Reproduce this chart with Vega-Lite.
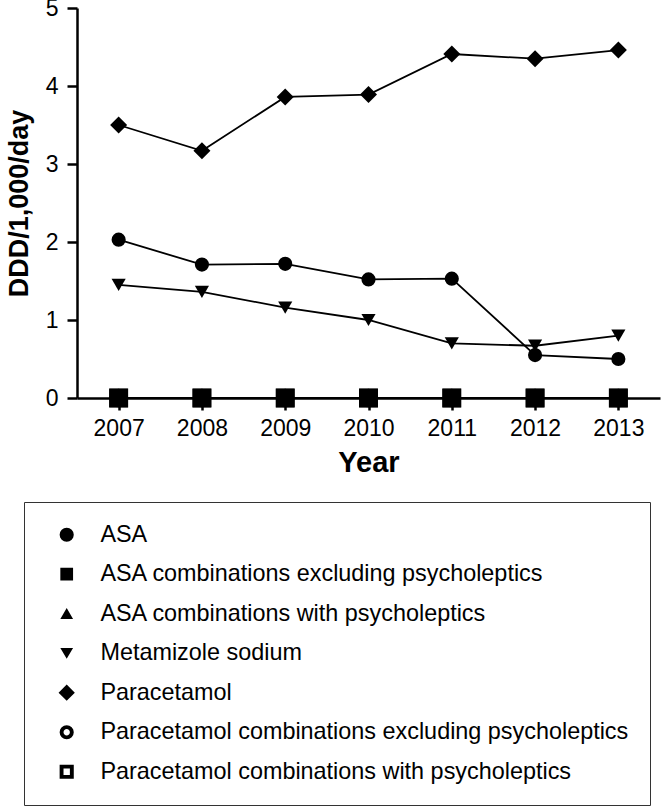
{
  "$schema": "https://vega.github.io/schema/vega-lite/v6.json",
  "autosize": {"type": "none"},
  "width": 583,
  "height": 390,
  "padding": {"left": 77, "top": 8, "right": 2, "bottom": 408},
  "config": {
    "font": "Liberation Sans",
    "view": {"stroke": null},
    "axis": {"grid": false, "domainColor": "black", "domainWidth": 2.5, "tickColor": "black", "tickWidth": 2.5, "labelColor": "black", "titleColor": "black", "labelFont": "Liberation Sans", "titleFont": "Liberation Sans"}
  },
  "data": {
    "values": [
      {"series": "ASA combinations with psycholeptics", "year": 2007, "value": 0},
      {"series": "ASA combinations with psycholeptics", "year": 2008, "value": 0},
      {"series": "ASA combinations with psycholeptics", "year": 2009, "value": 0},
      {"series": "ASA combinations with psycholeptics", "year": 2010, "value": 0},
      {"series": "ASA combinations with psycholeptics", "year": 2011, "value": 0},
      {"series": "ASA combinations with psycholeptics", "year": 2012, "value": 0},
      {"series": "ASA combinations with psycholeptics", "year": 2013, "value": 0},
      {"series": "Paracetamol combinations excluding psycholeptics", "year": 2007, "value": 0},
      {"series": "Paracetamol combinations excluding psycholeptics", "year": 2008, "value": 0},
      {"series": "Paracetamol combinations excluding psycholeptics", "year": 2009, "value": 0},
      {"series": "Paracetamol combinations excluding psycholeptics", "year": 2010, "value": 0},
      {"series": "Paracetamol combinations excluding psycholeptics", "year": 2011, "value": 0},
      {"series": "Paracetamol combinations excluding psycholeptics", "year": 2012, "value": 0},
      {"series": "Paracetamol combinations excluding psycholeptics", "year": 2013, "value": 0},
      {"series": "Paracetamol combinations with psycholeptics", "year": 2007, "value": 0},
      {"series": "Paracetamol combinations with psycholeptics", "year": 2008, "value": 0},
      {"series": "Paracetamol combinations with psycholeptics", "year": 2009, "value": 0},
      {"series": "Paracetamol combinations with psycholeptics", "year": 2010, "value": 0},
      {"series": "Paracetamol combinations with psycholeptics", "year": 2011, "value": 0},
      {"series": "Paracetamol combinations with psycholeptics", "year": 2012, "value": 0},
      {"series": "Paracetamol combinations with psycholeptics", "year": 2013, "value": 0},
      {"series": "Paracetamol", "year": 2007, "value": 3.50},
      {"series": "Paracetamol", "year": 2008, "value": 3.17},
      {"series": "Paracetamol", "year": 2009, "value": 3.86},
      {"series": "Paracetamol", "year": 2010, "value": 3.89},
      {"series": "Paracetamol", "year": 2011, "value": 4.41},
      {"series": "Paracetamol", "year": 2012, "value": 4.35},
      {"series": "Paracetamol", "year": 2013, "value": 4.46},
      {"series": "Metamizole sodium", "year": 2007, "value": 1.45},
      {"series": "Metamizole sodium", "year": 2008, "value": 1.36},
      {"series": "Metamizole sodium", "year": 2009, "value": 1.16},
      {"series": "Metamizole sodium", "year": 2010, "value": 1.00},
      {"series": "Metamizole sodium", "year": 2011, "value": 0.70},
      {"series": "Metamizole sodium", "year": 2012, "value": 0.67},
      {"series": "Metamizole sodium", "year": 2013, "value": 0.80},
      {"series": "ASA", "year": 2007, "value": 2.03},
      {"series": "ASA", "year": 2008, "value": 1.71},
      {"series": "ASA", "year": 2009, "value": 1.72},
      {"series": "ASA", "year": 2010, "value": 1.52},
      {"series": "ASA", "year": 2011, "value": 1.53},
      {"series": "ASA", "year": 2012, "value": 0.55},
      {"series": "ASA", "year": 2013, "value": 0.50},
      {"series": "ASA combinations excluding psycholeptics", "year": 2007, "value": 0},
      {"series": "ASA combinations excluding psycholeptics", "year": 2008, "value": 0},
      {"series": "ASA combinations excluding psycholeptics", "year": 2009, "value": 0},
      {"series": "ASA combinations excluding psycholeptics", "year": 2010, "value": 0},
      {"series": "ASA combinations excluding psycholeptics", "year": 2011, "value": 0},
      {"series": "ASA combinations excluding psycholeptics", "year": 2012, "value": 0},
      {"series": "ASA combinations excluding psycholeptics", "year": 2013, "value": 0}
    ]
  },
  "encoding": {
    "x": {
      "field": "year", "type": "quantitative",
      "scale": {"domain": [2006.5, 2013.5], "nice": false, "zero": false},
      "axis": {"title": "Year", "values": [2007, 2008, 2009, 2010, 2011, 2012, 2013], "format": "d", "labelFontSize": 23, "tickSize": 12, "labelPadding": 7, "titleFontSize": 29, "titleFontWeight": "bold", "titlePadding": 8, "labelFlush": false}
    },
    "y": {
      "field": "value", "type": "quantitative",
      "scale": {"domain": [0, 5], "nice": false},
      "axis": {"title": "DDD/1,000/day", "values": [0, 1, 2, 3, 4, 5], "labelFontSize": 23, "tickSize": 10, "labelPadding": 9, "titleFontSize": 27, "titleFontWeight": "bold", "titlePadding": 12, "labelFlush": false}
    }
  },
  "resolve": {"scale": {"shape": "independent"}, "legend": {"shape": "independent"}},
  "layer": [
    {
      "mark": {"type": "line", "color": "black", "strokeWidth": 1.8},
      "encoding": {"detail": {"field": "series", "type": "nominal"}}
    },
    {
      "mark": {"type": "point", "filled": true, "fill": "black", "stroke": "black", "opacity": 0, "size": 200, "strokeWidth": 1.5},
      "encoding": {
        "shape": {
          "field": "series", "type": "nominal",
          "scale": {
            "domain": ["ASA", "ASA combinations excluding psycholeptics", "ASA combinations with psycholeptics", "Metamizole sodium", "Paracetamol", "Paracetamol combinations excluding psycholeptics", "Paracetamol combinations with psycholeptics"],
            "range": [
              "M-3 0 L3 0 M1 0 L0.924 0.383 L0.707 0.707 L0.383 0.924 L0 1 L-0.383 0.924 L-0.707 0.707 L-0.924 0.383 L-1 0 L-0.924 -0.383 L-0.707 -0.707 L-0.383 -0.924 L0 -1 L0.383 -0.924 L0.707 -0.707 L0.924 -0.383 Z",
              "M-3 0 L3 0 M-0.9 -0.9 L0.9 -0.9 L0.9 0.9 L-0.9 0.9 Z",
              "M-3 0 L3 0 M0 -0.8 L0.9 0.75 L-0.9 0.75 Z",
              "M-3 0 L3 0 M0 0.8 L0.9 -0.75 L-0.9 -0.75 Z",
              "M-3 0 L3 0 M0 -1.15 L1.15 0 L0 1.15 L-1.15 0 Z",
              "M-3 0 L3 0 M1 0 L0.924 0.383 L0.707 0.707 L0.383 0.924 L0 1 L-0.383 0.924 L-0.707 0.707 L-0.924 0.383 L-1 0 L-0.924 -0.383 L-0.707 -0.707 L-0.383 -0.924 L0 -1 L0.383 -0.924 L0.707 -0.707 L0.924 -0.383 Z M0.45 0 L0.416 -0.172 L0.318 -0.318 L0.172 -0.416 L0 -0.45 L-0.172 -0.416 L-0.318 -0.318 L-0.416 -0.172 L-0.45 0 L-0.416 0.172 L-0.318 0.318 L-0.172 0.416 L0 0.45 L0.172 0.416 L0.318 0.318 L0.416 0.172 Z",
              "M-3 0 L3 0 M-1 -1 L1 -1 L1 1 L-1 1 Z M-0.45 -0.45 L-0.45 0.45 L0.45 0.45 L0.45 -0.45 Z"
            ]
          },
          "legend": {
            "title": null, "orient": "none", "legendX": -53, "legendY": 494,
            "padding": 21, "strokeColor": "#333",
            "labelFontSize": 23.4, "labelColor": "black", "labelLimit": 800,
            "rowPadding": 14.5, "symbolSize": 200, "symbolOffset": 10, "labelOffset": 22,
            "symbolOpacity": 1, "symbolStrokeWidth": 1.5, "symbolFillColor": "black", "symbolStrokeColor": "black"
          }
        }
      }
    },
    {
      "transform": [{"filter": "indexof(datum.series, 'Paracetamol combinations') === 0"}],
      "mark": {"type": "point", "filled": true, "fill": "white", "stroke": "black", "strokeWidth": 3, "opacity": 1, "size": 240},
      "encoding": {
        "shape": {
          "field": "series", "type": "nominal",
          "scale": {"domain": ["Paracetamol combinations excluding psycholeptics", "Paracetamol combinations with psycholeptics"], "range": ["circle", "square"]},
          "legend": null
        }
      }
    },
    {
      "transform": [{"filter": "datum.series === 'ASA' || datum.series === 'Metamizole sodium' || datum.series === 'ASA combinations with psycholeptics'"}],
      "mark": {"type": "point", "filled": true, "color": "black", "opacity": 1, "size": 200},
      "encoding": {
        "shape": {
          "field": "series", "type": "nominal",
          "scale": {"domain": ["ASA", "ASA combinations with psycholeptics", "Metamizole sodium"], "range": ["circle", "triangle-up", "triangle-down"]},
          "legend": null
        }
      }
    },
    {
      "transform": [{"filter": "datum.series === 'Paracetamol'"}],
      "mark": {"type": "point", "filled": true, "color": "black", "opacity": 1, "size": 289, "shape": "diamond"}
    },
    {
      "transform": [{"filter": "datum.series === 'ASA combinations excluding psycholeptics'"}],
      "mark": {"type": "point", "filled": true, "color": "black", "opacity": 1, "size": 361, "shape": "square"}
    }
  ]
}
